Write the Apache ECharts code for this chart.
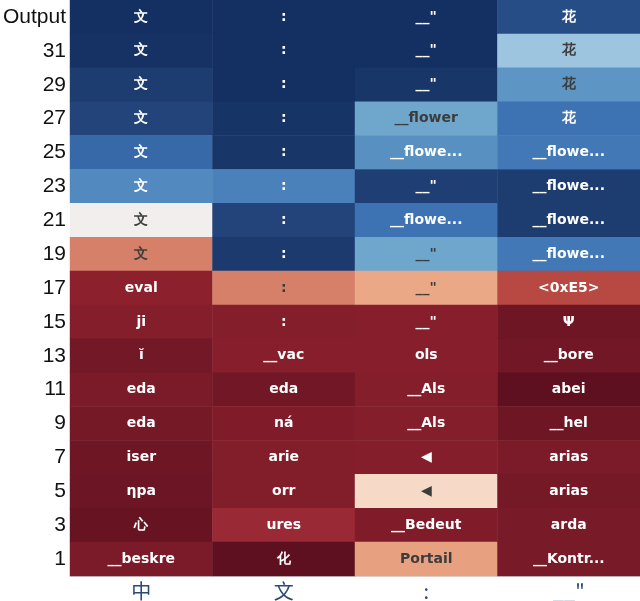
<!DOCTYPE html>
<html>
<head>
<meta charset="utf-8">
<script src="https://cdn.jsdelivr.net/npm/echarts@6/dist/echarts.min.js"></script>
<style>
  html, body { margin: 0; padding: 0; background: #fff; }
  #chart { width: 640px; height: 601px; }
</style>
</head>
<body>
<div id="chart"></div>
<script>
  // rows, top to bottom
  var layers = ['Output', '31', '29', '27', '25', '23', '21', '19', '17', '15', '13', '11', '9', '7', '5', '3', '1']
  var inputs = ['中', '文', ':', '__"']

  // decoded token in each cell, one list per input column
  var tokZhong = ['文', '文', '文', '文', '文', '文', '文', '文', 'eval', 'ji', 'ĭ', 'eda', 'eda', 'iser', 'ηpa', '心', '__beskre']
  var tokWen = [':', ':', ':', ':', ':', ':', ':', ':', ':', ':', '__vac', 'eda', 'ná', 'arie', 'orr', 'ures', '化']
  var tokColon = ['__"', '__"', '__"', '__flower', '__flowe...', '__"', '__flowe...', '__"', '__"', '__"', 'ols', '__Als', '__Als', '◀', '◀', '__Bedeut', 'Portail']
  var tokQuote = ['花', '花', '花', '花', '__flowe...', '__flowe...', '__flowe...', '__flowe...', '<0xE5>', 'Ψ', '__bore', 'abei', '__hel', 'arias', 'arias', 'arda', '__Kontr...']

  // cell values (0 = red end, 1 = blue end)
  var valZhong = [0.99, 0.98, 0.93, 0.9, 0.82, 0.75, 0.5, 0.3, 0.1, 0.085, 0.05, 0.065, 0.055, 0.04, 0.035, 0.025, 0.065]
  var valWen = [0.99, 0.99, 0.99, 0.97, 0.96, 0.77, 0.9, 0.94, 0.3, 0.085, 0.09, 0.045, 0.075, 0.08, 0.08, 0.13, 0.01]
  var valColon = [0.99, 0.99, 0.96, 0.7, 0.74, 0.92, 0.8, 0.7, 0.4, 0.09, 0.09, 0.085, 0.085, 0.085, 0.45, 0.075, 0.38]
  var valQuote = [0.88, 0.62, 0.73, 0.8, 0.79, 0.93, 0.93, 0.79, 0.2, 0.04, 0.045, 0.01, 0.04, 0.065, 0.055, 0.06, 0.06]

  var tokens = [tokZhong, tokWen, tokColon, tokQuote]
  var values = [valZhong, valWen, valColon, valQuote]

  // colour stops every 0.05 from 0 to 1
  var palette = ['#5a0e1e', '#731826', '#8c202d', '#a2303a', '#b84842', '#c86656', '#d6806a',
    '#e29678', '#eba887', '#f6d9c6', '#f3eeee', '#d0e2ec', '#a9cde3', '#8bb9d8', '#6ea6cc',
    '#528abf', '#3d73b3', '#2e5b98', '#22447a', '#1a386b', '#132d5e']

  var data = []
  for (var c = 0; c < inputs.length; c++) {
    for (var r = 0; r < layers.length; r++) {
      var v = values[c][r]
      var light = v >= 0.28 && v <= 0.735
      data.push({
        value: [c, r, v],
        label: { color: light ? '#3c3c3c' : '#ffffff' }
      })
    }
  }

  var chart = echarts.init(document.getElementById('chart'))
  chart.setOption({
    animation: false,
    grid: { left: 69, right: 0, top: 0, bottom: 25 },
    xAxis: {
      type: 'category',
      data: inputs,
      axisTick: { show: false },
      axisLine: { lineStyle: { color: '#dddddd' } },
      axisLabel: {
        color: '#2b4a78',
        fontSize: 20,
        margin: 5,
        fontFamily: '"Noto Sans CJK SC", "DejaVu Sans", sans-serif'
      }
    },
    yAxis: {
      type: 'category',
      data: layers,
      inverse: true,
      axisTick: { show: false },
      axisLine: { lineStyle: { color: '#dddddd' } },
      axisLabel: {
        color: '#111111',
        fontSize: 21,
        margin: 4,
        fontFamily: '"Liberation Sans", Arial, sans-serif'
      }
    },
    visualMap: {
      show: false,
      min: 0,
      max: 1,
      dimension: 2,
      inRange: { color: palette }
    },
    series: [{
      type: 'heatmap',
      data: data,
      label: {
        show: true,
        fontSize: 14,
        fontWeight: 'bold',
        fontFamily: '"DejaVu Sans", Verdana, sans-serif',
        formatter: function (p) {
          return tokens[p.value[0]][p.value[1]]
        }
      },
      itemStyle: { borderWidth: 0 }
    }]
  })
</script>
</body>
</html>
